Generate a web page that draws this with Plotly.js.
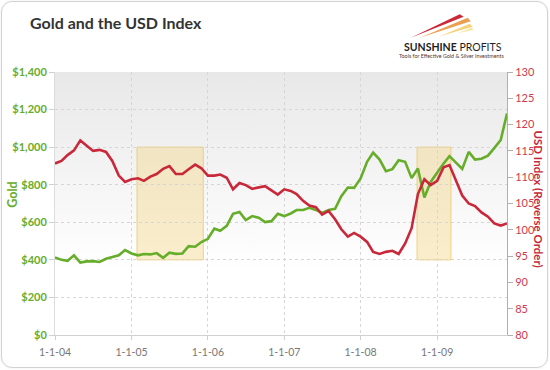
<!DOCTYPE html>
<html>
<head>
<meta charset="utf-8">
<script src="https://cdn.plot.ly/plotly-3.0.1.min.js"></script>
<style>
html,body{margin:0;padding:0;background:#fff;}
#wrap{position:relative;width:550px;height:370px;}
#chart{width:550px;height:370px;}
#frame{position:absolute;left:1px;top:1px;width:545px;height:365px;border:1.5px solid #d2d2d2;border-radius:11px;box-shadow:0 0 2px rgba(0,0,0,0.10);pointer-events:none;}
</style>
</head>
<body>
<div id="wrap"><div id="chart"></div><div id="frame"></div></div>
<script>
// ---- data (monthly, Jan 2004 - Dec 2009) ----
const years = [2004, 2005, 2006, 2007, 2008, 2009];
const tickLabels = ['1-1-04', '1-1-05', '1-1-06', '1-1-07', '1-1-08', '1-1-09'];

const gold2004 = [413, 400, 395, 424, 386, 392, 393, 389, 406, 413, 424, 452];
const gold2005 = [434, 424, 431, 429, 436, 411, 438, 432, 434, 473, 470, 495];
const gold2006 = [512, 566, 555, 581, 645, 655, 612, 633, 624, 601, 606, 645];
const gold2007 = [633, 647, 665, 665, 677, 666, 650, 665, 672, 739, 785, 783];
const gold2008 = [833, 922, 971, 934, 872, 883, 930, 922, 835, 886, 732, 815];
const gold2009 = [865, 913, 952, 915, 884, 975, 934, 938, 955, 995, 1038, 1179];

const usd2004 = [112.6, 113.1, 114.2, 115.1, 117.0, 115.9, 115.0, 115.2, 114.8, 113.1, 110.3, 109.1];
const usd2005 = [109.6, 109.8, 109.3, 110.1, 110.6, 111.6, 112.1, 110.6, 110.6, 111.5, 112.4, 111.7];
const usd2006 = [110.3, 110.3, 110.5, 109.9, 107.7, 108.9, 108.5, 107.8, 108.1, 108.3, 107.5, 106.7];
const usd2007 = [107.7, 107.4, 106.8, 105.5, 104.6, 104.3, 102.9, 103.6, 102.0, 100.1, 98.7, 99.4];
const usd2008 = [98.7, 97.7, 95.8, 95.4, 95.8, 96.0, 95.4, 97.4, 100.3, 106.8, 109.6, 108.5];
const usd2009 = [109.3, 111.9, 112.3, 109.5, 106.5, 105.0, 104.5, 103.3, 102.5, 101.2, 100.8, 101.2];

// highlighted periods (gold axis units)
const bandStarts = ['2005-01-27', '2008-09-27'];
const bandEnds   = ['2005-12-10', '2009-03-08'];
const bandLow = 400, bandHigh = 1000;

// ---- assemble ----
const gold = [].concat(gold2004, gold2005, gold2006, gold2007, gold2008, gold2009);
const usd  = [].concat(usd2004, usd2005, usd2006, usd2007, usd2008, usd2009);
const dates = [];
years.forEach(y => { for (let m = 1; m <= 12; m++) dates.push(y + '-' + String(m).padStart(2, '0') + '-01'); });
const tickVals = years.map(y => y + '-01-01');

const GREEN = '#66ad2a';
const RED = '#c8283a';
const FONT = 'Lato, "Open Sans", sans-serif';

// plot-area pixel -> paper helpers for decorations
const PL = 55, PR = 507.3, PT = 71.7, PB = 335;
const px = x => (x - PL) / (PR - PL);
const py = y => (PB - y) / (PB - PT);

const bgSvg = "<svg xmlns='http://www.w3.org/2000/svg' width='100' height='100' preserveAspectRatio='none'>" +
  "<defs><linearGradient id='g' x1='0' y1='0' x2='0' y2='1'>" +
  "<stop offset='0' stop-color='#e8e8e8'/><stop offset='0.75' stop-color='#ffffff'/><stop offset='1' stop-color='#ffffff'/>" +
  "</linearGradient></defs><rect width='100' height='100' fill='url(#g)'/></svg>";

const traces = [
  {
    x: dates, y: gold, type: 'scatter', mode: 'lines', name: 'Gold',
    line: {color: GREEN, width: 2.6}, yaxis: 'y', hoverinfo: 'x+y'
  },
  {
    x: dates, y: usd, type: 'scatter', mode: 'lines', name: 'USD Index',
    line: {color: RED, width: 2.6}, yaxis: 'y2', hoverinfo: 'x+y'
  }
];

const shapes = bandStarts.map((s, i) => ({
  type: 'rect', xref: 'x', yref: 'y', x0: s, x1: bandEnds[i], y0: bandLow, y1: bandHigh,
  fillcolor: 'rgba(240,205,110,0.35)', line: {color: 'rgba(235,195,90,0.7)', width: 1}, layer: 'below'
}));

// Sunshine Profits swoosh (decoration)
function wedge(pts, color) {
  let d = 'M ' + pts.map(p => px(p[0]) + ',' + py(p[1])).join(' L ') + ' Z';
  return {type: 'path', xref: 'paper', yref: 'paper', path: d, fillcolor: color, line: {width: 0}, layer: 'above'};
}
shapes.push(wedge([[411, 37.5], [460, 14], [464, 16.5]], 'rgba(200,30,45,0.95)'));
shapes.push(wedge([[420, 37.5], [468, 17.5], [471, 21]], 'rgba(232,150,60,0.9)'));
shapes.push(wedge([[440, 36], [470, 23.5], [473, 26.5]], 'rgba(240,200,90,0.8)'));
shapes.push(wedge([[458, 33], [472, 27.5], [474, 29.5]], 'rgba(245,215,120,0.7)'));

const layout = {
  width: 550, height: 370,
  margin: {l: PL, r: 550 - PR, t: PT, b: 370 - PB, pad: 0},
  paper_bgcolor: '#ffffff', plot_bgcolor: 'rgba(0,0,0,0)',
  showlegend: false,
  font: {family: FONT, color: '#666'},
  title: {
    text: '<b>Gold and the USD Index</b>', xref: 'container', yref: 'container',
    x: 30 / 550, xanchor: 'left', y: 1 - 23 / 370, yanchor: 'middle',
    font: {family: FONT, size: 16, color: '#333'}
  },
  xaxis: {
    type: 'date', range: ['2004-01-01', '2009-12-01'],
    tickmode: 'array', tickvals: tickVals, ticktext: tickLabels,
    tickfont: {family: FONT, size: 10.5, color: '#777'},
    ticklabelstandoff: 3,
    showgrid: true, gridcolor: '#d6d6d6', griddash: 'dot', gridwidth: 1,
    showline: true, linecolor: '#d0d0d0', linewidth: 1,
    ticks: 'outside', ticklen: 4, tickcolor: '#d0d0d0', zeroline: false, fixedrange: true
  },
  yaxis: {
    range: [0, 1400], dtick: 200, tickprefix: '$', tickformat: ',',
    tickfont: {family: FONT, size: 11, color: GREEN, weight: 'bold'},
    showgrid: true, gridcolor: '#d6d6d6', griddash: 'dot', gridwidth: 1,
    showline: true, linecolor: '#dcdcdc', linewidth: 1,
    ticks: 'outside', ticklen: 5, tickcolor: '#d0d0d0', zeroline: false,
    fixedrange: true
  },
  yaxis2: {
    overlaying: 'y', side: 'right', range: [80, 130], dtick: 5,
    tickfont: {family: FONT, size: 11, color: '#cf3a4c'},
    showgrid: false, showline: true, linecolor: '#b0b0b0', linewidth: 1,
    ticks: 'outside', ticklen: 5, tickcolor: '#b0b0b0', zeroline: false,
    fixedrange: true
  },
  shapes: shapes,
  images: [{
    source: 'data:image/svg+xml;charset=utf-8,' + encodeURIComponent(bgSvg),
    xref: 'paper', yref: 'paper', x: 0, y: 1, sizex: 1, sizey: 1,
    sizing: 'stretch', xanchor: 'left', yanchor: 'top', layer: 'below'
  }],
  annotations: [
    {
      text: '<b>Gold</b>', xref: 'paper', yref: 'paper', textangle: -90,
      x: px(12.5), y: py(195), xanchor: 'center', yanchor: 'middle', showarrow: false,
      font: {family: FONT, size: 12.5, color: GREEN}
    },
    {
      text: '<b>USD Index (Reverse Order)</b>', xref: 'paper', yref: 'paper', textangle: 90,
      x: px(539), y: py(199), xanchor: 'center', yanchor: 'middle', showarrow: false,
      font: {family: FONT, size: 11.5, color: RED}
    },
    {
      text: '<b>SUNSHINE</b> PROFITS', xref: 'paper', yref: 'paper',
      x: px(453), y: py(46.5), xanchor: 'center', yanchor: 'middle', showarrow: false,
      font: {family: FONT, size: 10.5, color: '#1e1e1e'}
    },
    {
      text: 'Tools for Effective Gold & Silver Investments', xref: 'paper', yref: 'paper',
      x: px(452), y: py(56), xanchor: 'center', yanchor: 'middle', showarrow: false,
      font: {family: FONT, size: 5.4, color: '#5a3524'}
    }
  ]
};

Plotly.newPlot('chart', traces, layout, {displayModeBar: false, staticPlot: true});
</script>
</body>
</html>
